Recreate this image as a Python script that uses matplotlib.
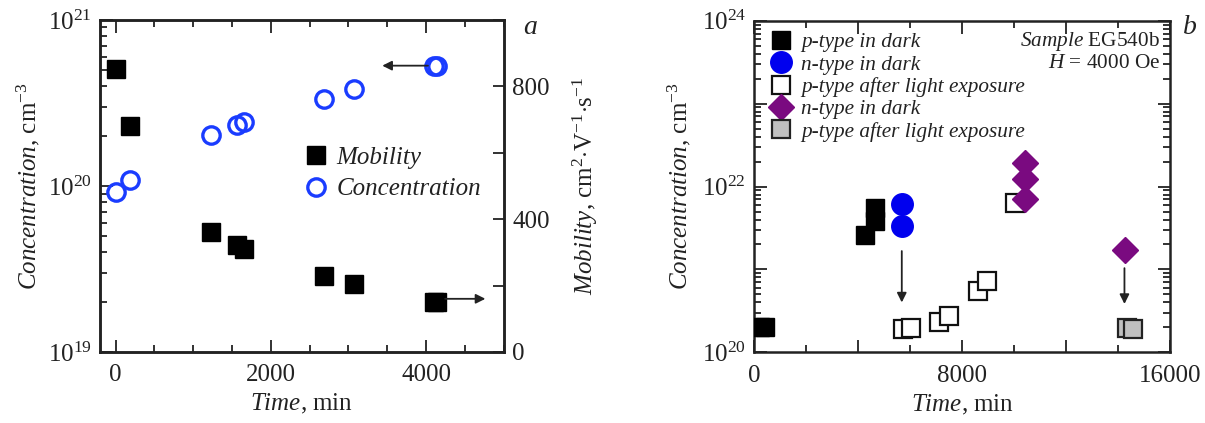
import math
import matplotlib.pyplot as plt
from matplotlib.lines import Line2D
from matplotlib.ticker import LogLocator, NullFormatter, FixedLocator, FuncFormatter

plt.rcParams['font.family'] = 'Liberation Serif'
plt.rcParams['mathtext.fontset'] = 'custom'
plt.rcParams['mathtext.rm'] = 'Liberation Serif'
plt.rcParams['mathtext.it'] = 'Liberation Serif:italic'
plt.rcParams['text.color'] = '#222222'
plt.rcParams['axes.labelcolor'] = '#222222'
plt.rcParams['xtick.color'] = '#222222'
plt.rcParams['ytick.color'] = '#222222'

# panel a
time_a = [0, 180, 1230, 1560, 1655, 2680, 3075, 4100, 4140]
conc_a = [9.2e19, 1.08e20, 2.04e20, 2.32e20, 2.44e20, 3.36e20, 3.86e20, 5.3e20, 5.3e20]
mob_a = [851, 681, 362, 321, 309, 228, 204, 151, 151]

# panel b
p_dark_t = [220, 410, 4260, 4650, 4650]
p_dark_c = [2.0e20, 2.05e20, 2.6e21, 3.8e21, 5.5e21]
n_dark_t = [5700, 5700]
n_dark_c = [6.2e21, 3.3e21]
p_light_t = [5740, 6020, 7120, 7510, 8590, 8970, 10050]
p_light_c = [1.9e20, 1.95e20, 2.35e20, 2.75e20, 5.5e20, 7.2e20, 6.3e21]
n_dark2_t = [10400, 10400, 10400, 14270]
n_dark2_c = [1.94e22, 1.22e22, 7.0e21, 1.7e21]
p_light2_t = [14340, 14590]
p_light2_c = [1.95e20, 1.9e20]

fs = 18
lfs = 15.3
fig = plt.figure(figsize=(12.05, 4.23), dpi=100)
ax = fig.add_axes([0.083, 0.168, 0.335, 0.785])
ax2 = ax.twinx()
bx = fig.add_axes([0.626, 0.167, 0.345, 0.784])

for a in (ax, ax2, bx):
    for s in a.spines.values():
        s.set_linewidth(1.8)
        s.set_color('#222222')

# ---- panel a ----
ax.plot(time_a, conc_a, 'o', ms=12.5, mfc='none', mec='#1a3cff', mew=2.4, zorder=3)
ax2.plot(time_a, mob_a, 's', ms=12.5, color='k', zorder=3)
ax.set_yscale('log')
ax.set_ylim(1e19, 1e21)
ax.set_xlim(-200, 5000)
ax2.set_ylim(0, 1000)
ax.set_xticks([0, 2000, 4000])
ax.xaxis.set_minor_locator(FixedLocator(range(0, 5001, 500)))
ax.yaxis.set_minor_locator(LogLocator(base=10, subs=range(2, 10)))
ax.yaxis.set_minor_formatter(NullFormatter())
ax.tick_params(which='both', direction='in', top=True, right=False, labelsize=fs, width=1.3)
ax.tick_params(which='major', length=9, pad=6)
ax.tick_params(axis='x', which='major', pad=9)
ax.tick_params(which='minor', length=5)
ax2.set_yticks([0, 200, 400, 600, 800, 1000])
ax2.set_yticklabels(['0', '', '400', '', '800', ''])
ax2.tick_params(direction='in', length=8, width=1.3, labelsize=fs, pad=6)

ax.set_xlabel(r'$\it{Time}$, min', fontsize=fs, labelpad=4)
ax.set_ylabel(r'$\it{Concentration}$, cm$^{-3}$', fontsize=fs, labelpad=4)
ax2.set_ylabel(r'$\it{Mobility}$, cm$^2$$\cdot$V$^{-1}$$\cdot$s$^{-1}$', fontsize=fs, labelpad=15)

ax.annotate('', xy=(3400, 5.3e20), xytext=(4060, 5.3e20),
            arrowprops=dict(arrowstyle='-|>', color='#222222', lw=1.3, mutation_scale=14))
ax2.annotate('', xy=(4800, 160), xytext=(4210, 160),
             arrowprops=dict(arrowstyle='-|>', color='#222222', lw=1.3, mutation_scale=14))

handles_a = [Line2D([], [], ls='none', marker='s', ms=12.5, color='k'),
             Line2D([], [], ls='none', marker='o', ms=12.5, mfc='none', mec='#1a3cff', mew=2.4)]
ax2.legend(handles_a, ['Mobility', 'Concentration'], loc='center left', bbox_to_anchor=(0.505, 0.537),
           frameon=False, borderpad=0, borderaxespad=0, handlelength=1.0, handletextpad=0.3,
           labelspacing=0.35, prop={'style': 'italic', 'size': fs})
fig.text(0.44, 0.934, 'a', fontsize=fs + 2, style='italic', ha='center', va='center')

# ---- panel b ----
bx.plot(p_dark_t, p_dark_c, 's', ms=13, color='k', zorder=3)
bx.plot(n_dark_t, n_dark_c, 'o', ms=15.5, color='#0000ee', zorder=3)
bx.plot(p_light_t, p_light_c, 's', ms=13, mfc='white', mec='#111111', mew=1.6, zorder=3)
bx.plot(n_dark2_t, n_dark2_c, 'D', ms=13.5, color='#7a0a80', zorder=4)
bx.plot(p_light2_t, p_light2_c, 's', ms=13, mfc='#c0c0c0', mec='#222222', mew=1.6, zorder=3)
bx.set_yscale('log')
bx.set_ylim(1e20, 1e24)
bx.set_xlim(0, 16000)
bx.set_xticks([0, 4000, 8000, 12000, 16000])
bx.set_xticklabels(['0', '', '8000', '', '16000'])
bx.xaxis.set_minor_locator(FixedLocator(range(0, 16001, 2000)))
bx.yaxis.set_major_locator(LogLocator(base=10, numticks=10))
bx.yaxis.set_major_formatter(FuncFormatter(
    lambda v, p: r'$10^{%d}$' % round(math.log10(v)) if round(math.log10(v)) % 2 == 0 else ''))
bx.yaxis.set_minor_locator(LogLocator(base=10, subs=range(2, 10), numticks=10))
bx.yaxis.set_minor_formatter(NullFormatter())
bx.tick_params(which='both', direction='in', top=True, right=True, labelsize=fs, width=1.3)
bx.tick_params(which='major', length=9, pad=6)
bx.tick_params(axis='x', which='major', pad=9)
bx.tick_params(which='minor', length=5)
bx.set_xlabel(r'$\it{Time}$, min', fontsize=fs, labelpad=4)
bx.set_ylabel(r'$\it{Concentration}$, cm$^{-3}$', fontsize=fs, labelpad=6)

bx.annotate('', xy=(5675, 3.7e20), xytext=(5675, 1.8e21),
            arrowprops=dict(arrowstyle='-|>', color='#222222', lw=1.3, mutation_scale=14))
bx.annotate('', xy=(14245, 3.55e20), xytext=(14245, 1.12e21),
            arrowprops=dict(arrowstyle='-|>', color='#222222', lw=1.3, mutation_scale=14))

handles_b = [Line2D([], [], ls='none', marker='s', ms=13, color='k'),
             Line2D([], [], ls='none', marker='o', ms=15.5, color='#0000ee'),
             Line2D([], [], ls='none', marker='s', ms=13, mfc='white', mec='#111111', mew=1.6),
             Line2D([], [], ls='none', marker='D', ms=13.5, color='#7a0a80'),
             Line2D([], [], ls='none', marker='s', ms=13, mfc='#c0c0c0', mec='#222222', mew=1.6)]
labels_b = ['p-type in dark', 'n-type in dark', 'p-type after light exposure',
            'n-type in dark', 'p-type after light exposure']
bx.legend(handles_b, labels_b, loc='center left', bbox_to_anchor=(0.038, 0.80),
          frameon=False, borderpad=0, borderaxespad=0, handlelength=1.0, handletextpad=0.45,
          labelspacing=0.12, handleheight=0.7, prop={'style': 'italic', 'size': lfs})
bx.text(0.976, 0.936, r'$\it{Sample}$ EG540b', transform=bx.transAxes, fontsize=lfs,
        ha='right', va='center')
bx.text(0.976, 0.872, r'$\it{H}$ = 4000 Oe', transform=bx.transAxes, fontsize=lfs,
        ha='right', va='center')
fig.text(0.9875, 0.934, 'b', fontsize=fs + 2, style='italic', ha='center', va='center')

fig.savefig('out.png', dpi=100)
